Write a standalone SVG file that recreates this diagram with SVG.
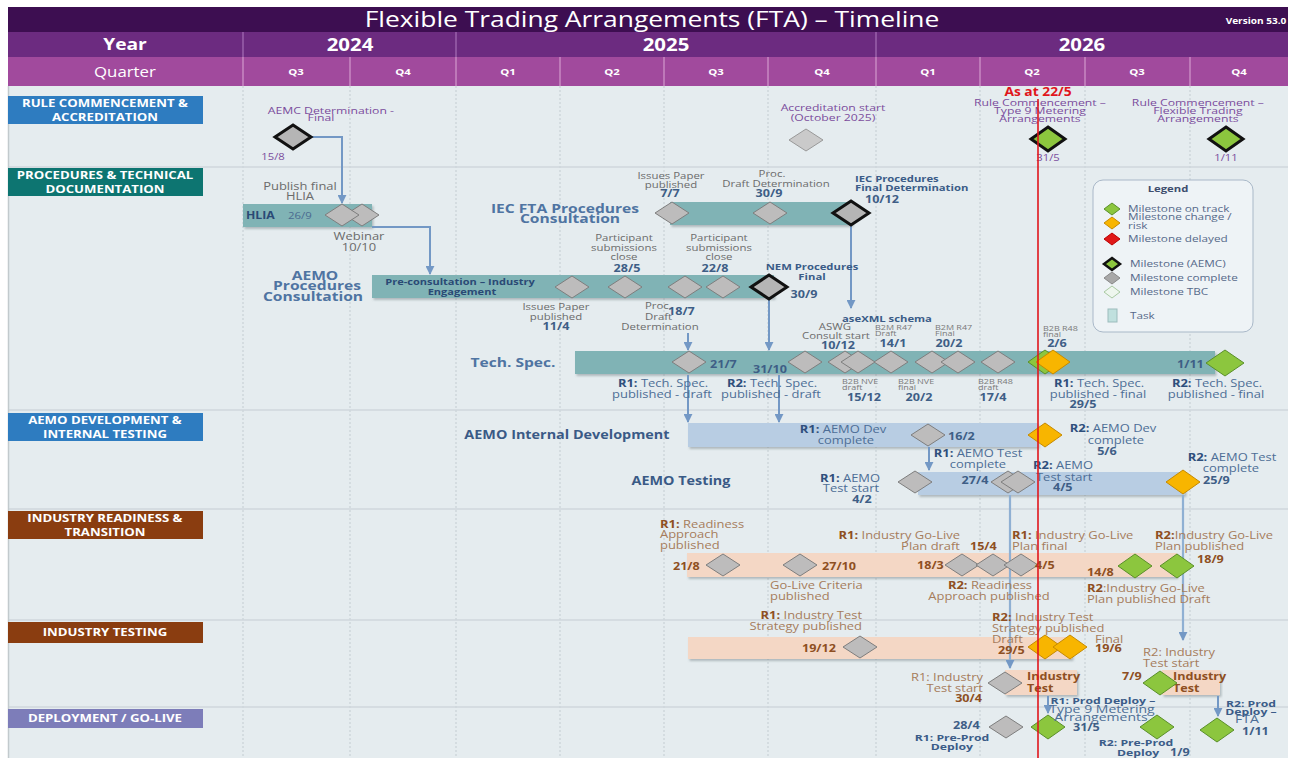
<svg xmlns="http://www.w3.org/2000/svg" width="1292" height="758" viewBox="0 0 1292 758">
<defs>
<style>
text{font-family:"Open Sans","Liberation Sans",sans-serif;text-anchor:middle;transform-box:fill-box;transform-origin:center;transform:scaleX(1.2)}
.l{text-anchor:start;transform-origin:left center}
.r{text-anchor:end;transform-origin:right center}
.b{font-weight:700}
.w{transform:scaleX(1.3)}
.sec{fill:#fff;font-weight:700;font-size:11px}
.hd{fill:#fff}
.g{fill:#6b6b6b;font-size:9.5px}
.gl{fill:#6b6b6b;font-size:10.8px}
.dt{fill:#3e5e86;font-weight:700;font-size:10.5px}
.pu{fill:#7b4d9d;font-size:9.4px}
.bt{fill:#4f74a2;font-weight:700;font-size:13px}
.bn{fill:#3b5c88;font-weight:700;font-size:9.4px}
.bl{fill:#4d6e96;font-size:10.8px}
.bl .b{fill:#2f4f7c}
.br{fill:#a67c5c;font-size:10.8px}
.br .b{fill:#8e4f22}
.bd{fill:#8e4f22;font-weight:700;font-size:10.5px}
.tn{fill:#7a7a7a;font-size:7.5px}
.lg{fill:#56698a;font-size:9.8px}
.bar{filter:url(#sh)}
.teal{fill:#80b3b5}
.lb{fill:#b8cde3}
.pe{fill:#f4d7c5}
.grid{stroke:#c3ccd1;stroke-width:1;stroke-dasharray:2 2}
.hl{stroke:#cfd7dc;stroke-width:1.5}
.cn{fill:none;stroke:#7398c5;stroke-width:2;marker-end:url(#ah)}
.cl{fill:none;stroke:#8fb0d3;stroke-width:2.2;marker-end:url(#ah)}
</style>
<filter id="sh" x="-5%" y="-20%" width="110%" height="160%"><feDropShadow dx="1.5" dy="2" stdDeviation="1" flood-color="#6f7b80" flood-opacity="0.45"/></filter>
<marker id="ah" viewBox="0 0 10 10" refX="9" refY="5" markerWidth="9" markerHeight="9" markerUnits="userSpaceOnUse" orient="auto"><path d="M0,0 L10,5 L0,10 z" fill="#7398c5"/></marker>
<polygon id="dG" points="0,-11 17,0 0,11 -17,0" fill="#bdbcbc" stroke="#7e7e7e" stroke-width="1"/>
<polygon id="dK" points="0,-12 18,0 0,12 -18,0" fill="#b5b5b5" stroke="#111" stroke-width="3"/>
<polygon id="dN" points="0,-12 17,0 0,12 -17,0" fill="#8cc63e" stroke="#5a8f2a" stroke-width="1"/>
<polygon id="dNK" points="0,-12 17,0 0,12 -17,0" fill="#8cc63e" stroke="#111" stroke-width="3"/>
<polygon id="dO" points="0,-12 17,0 0,12 -17,0" fill="#f8b500" stroke="#c68a00" stroke-width="1"/>
<polygon id="dL" points="0,-11 17,0 0,11 -17,0" fill="#cacaca" stroke="#999" stroke-width="1"/>
</defs>

<rect x="0" y="0" width="1292" height="758" fill="#ffffff"/>
<rect x="8" y="86" width="1280" height="672" fill="#e5ecef"/>

<g id="header">
<rect x="8" y="7" width="1280" height="25" fill="#3d0e51"/>
<rect x="8" y="32" width="1280" height="25" fill="#6c2b80"/>
<rect x="8" y="57" width="1280" height="29" fill="#a14a9d"/>
<g stroke="#9a62ab" stroke-width="1.5"><line x1="243" y1="32" x2="243" y2="57"/><line x1="456" y1="32" x2="456" y2="57"/><line x1="876" y1="32" x2="876" y2="57"/></g>
<g stroke="#c88ac3" stroke-width="1.5"><line x1="243" y1="57" x2="243" y2="86"/><line x1="350" y1="57" x2="350" y2="86"/><line x1="456" y1="57" x2="456" y2="86"/><line x1="560" y1="57" x2="560" y2="86"/><line x1="664" y1="57" x2="664" y2="86"/><line x1="768" y1="57" x2="768" y2="86"/><line x1="876" y1="57" x2="876" y2="86"/><line x1="980" y1="57" x2="980" y2="86"/><line x1="1085" y1="57" x2="1085" y2="86"/><line x1="1190" y1="57" x2="1190" y2="86"/></g>
<text class="hd" x="652" y="27" font-size="22">Flexible Trading Arrangements (FTA) – Timeline</text>
<text class="hd b" x="1256" y="24" font-size="8.4">Version 53.0</text>
<text class="hd b" x="125" y="50" font-size="16">Year</text>
<text class="hd b" x="350" y="51" font-size="17">2024</text>
<text class="hd b" x="666" y="51" font-size="17">2025</text>
<text class="hd b" x="1082" y="51" font-size="17">2026</text>
<text class="hd" x="125" y="77" font-size="14">Quarter</text>
<g id="quarters">
<text class="hd b" x="296" y="75" font-size="9.5">Q3</text>
<text class="hd b" x="403" y="75" font-size="9.5">Q4</text>
<text class="hd b" x="508" y="75" font-size="9.5">Q1</text>
<text class="hd b" x="612" y="75" font-size="9.5">Q2</text>
<text class="hd b" x="716" y="75" font-size="9.5">Q3</text>
<text class="hd b" x="822" y="75" font-size="9.5">Q4</text>
<text class="hd b" x="928" y="75" font-size="9.5">Q1</text>
<text class="hd b" x="1032" y="75" font-size="9.5">Q2</text>
<text class="hd b" x="1137" y="75" font-size="9.5">Q3</text>
<text class="hd b" x="1239" y="75" font-size="9.5">Q4</text>
</g>
</g>

<g id="grid">
<line class="grid" x1="243" y1="86" x2="243" y2="758"/>
<line class="grid" x1="350" y1="86" x2="350" y2="758"/>
<line class="grid" x1="456" y1="86" x2="456" y2="758"/>
<line class="grid" x1="560" y1="86" x2="560" y2="758"/>
<line class="grid" x1="664" y1="86" x2="664" y2="758"/>
<line class="grid" x1="768" y1="86" x2="768" y2="758"/>
<line class="grid" x1="876" y1="86" x2="876" y2="758"/>
<line class="grid" x1="980" y1="86" x2="980" y2="758"/>
<line class="grid" x1="1085" y1="86" x2="1085" y2="758"/>
<line class="grid" x1="1190" y1="86" x2="1190" y2="758"/>
<line class="hl" x1="8" y1="167" x2="1288" y2="167"/>
<line class="hl" x1="8" y1="410" x2="1288" y2="410"/>
<line class="hl" x1="8" y1="509" x2="1288" y2="509"/>
<line class="hl" x1="8" y1="620" x2="1288" y2="620"/>
<line class="hl" x1="8" y1="707" x2="1288" y2="707"/>
<line x1="8.5" y1="86" x2="8.5" y2="758" stroke="#c2cacd" stroke-width="1.5"/>
</g>

<g id="sections">
<g id="sec-rule"><rect x="8" y="96" width="195" height="28" fill="#2e7cc0"/><text class="sec" x="105" y="107">RULE COMMENCEMENT &amp;</text><text class="sec" x="105" y="121">ACCREDITATION</text></g>
<g id="sec-proc"><rect x="8" y="168" width="195" height="28" fill="#0d7571"/><text class="sec" x="105" y="179">PROCEDURES &amp; TECHNICAL</text><text class="sec" x="105" y="193">DOCUMENTATION</text></g>
<g id="sec-dev"><rect x="8" y="413" width="195" height="28" fill="#2e7cc0"/><text class="sec" x="105" y="424">AEMO DEVELOPMENT &amp;</text><text class="sec" x="105" y="438">INTERNAL TESTING</text></g>
<g id="sec-ready"><rect x="8" y="511" width="195" height="28" fill="#8a3d10"/><text class="sec" x="105" y="522">INDUSTRY READINESS &amp;</text><text class="sec" x="105" y="536">TRANSITION</text></g>
<g id="sec-itest"><rect x="8" y="622" width="195" height="21" fill="#8a3d10"/><text class="sec" x="105" y="636">INDUSTRY TESTING</text></g>
<g id="sec-deploy"><rect x="8" y="709" width="195" height="19" fill="#7d7db9"/><text class="sec" x="105" y="722">DEPLOYMENT / GO-LIVE</text></g>
</g>

<g id="bars">
<g id="bar-hlia"><rect class="bar teal" x="243" y="204" width="129" height="23"/><text class="l b" x="246" y="219" font-size="10.2" fill="#2a4a75">HLIA</text><text class="l" x="288" y="219" font-size="9.5" fill="#4a6a90">26/9</text></g>
<g id="bar-aemo-proc"><text class="bt" x="315" y="280" fill="#5a7fa9">AEMO</text><text class="bt" x="317" y="290.5" fill="#5a7fa9">Procedures</text><text class="bt" x="313" y="301" fill="#5a7fa9">Consultation</text></g>
<g id="bar-precons"><rect class="bar teal" x="372" y="275" width="402" height="23"/><text class="b" x="460" y="285" font-size="9.2" fill="#2a4a75">Pre-consultation – Industry</text><text class="b" x="462" y="295" font-size="9.2" fill="#2a4a75">Engagement</text></g>
<g id="bar-iec"><rect class="bar teal" x="670" y="202" width="182" height="23"/><text class="bt" x="565" y="213">IEC FTA Procedures</text><text class="bt" x="570" y="223.5">Consultation</text></g>
<g id="bar-techspec"><rect class="bar teal" x="575" y="351" width="640" height="23"/><text class="bt" x="513" y="367">Tech. Spec.</text></g>
<g id="bar-intdev"><rect class="bar lb" x="688" y="423" width="350" height="24"/><text class="b" x="567" y="439" font-size="12" fill="#3a5a86">AEMO Internal Development</text></g>
<g id="bar-aemotest"><rect class="bar lb" x="918" y="472" width="267" height="23"/><text class="b" x="681" y="485" font-size="12" fill="#3a5a86">AEMO Testing</text></g>
<g id="bar-ready"><rect class="bar pe" x="687" y="553" width="490" height="24"/></g>
<g id="bar-indtest"><rect class="bar pe" x="688" y="637" width="384" height="22"/></g>
<g id="bar-it1"><rect class="bar pe" x="1005" y="670" width="72" height="25"/><text class="l bd" x="1027" y="680" font-size="10">Industry</text><text class="l bd" x="1027" y="692" font-size="10">Test</text></g>
<g id="bar-it2"><rect class="bar pe" x="1162" y="670" width="58" height="25"/><text class="l bd" x="1173" y="680" font-size="10">Industry</text><text class="l bd" x="1173" y="692" font-size="10">Test</text></g>
</g>

<g id="connectors">
<path class="cn" d="M309,137 H342 V203"/>
<path class="cn" d="M372,227 H430 V274"/>
<path class="cn" d="M851,226 V308"/>
<path class="cn" d="M769,300 V350"/>
<path class="cn" d="M688,333 V350"/>
<path class="cn" d="M688,375 V422"/>
<path class="cn" d="M779,375 V422"/>
<path class="cn" d="M929,447 V470"/>
<path class="cl" d="M1010,495 V668"/>
<path class="cl" d="M1183,495 V640"/>
<path class="cn" d="M1048,696 V713"/>
<path class="cn" d="M1218,696 V716"/>
</g>

<g id="ms-aemc-final"><text class="pu w" x="331" y="114">AEMC Determination -</text><text class="pu w" x="321" y="121.5">Final</text><use href="#dK" x="293" y="137"/><text class="pu" x="273" y="160">15/8</text></g>
<g id="ms-accred"><text class="pu w" x="833" y="111" fill="#6f6a8f">Accreditation start</text><text class="pu w" x="833" y="121.5" fill="#6f6a8f">(October 2025)</text><use href="#dL" x="806" y="140"/></g>
<g id="ms-rule-t9"><text class="pu w" x="1040" y="106">Rule Commencement –</text><text class="pu w" x="1040" y="114">Type 9 Metering</text><text class="pu w" x="1040" y="122">Arrangements</text><use href="#dNK" x="1048" y="139"/><text class="pu" x="1048" y="161">31/5</text></g>
<g id="ms-rule-fta"><text class="pu w" x="1198" y="106">Rule Commencement –</text><text class="pu w" x="1198" y="114">Flexible Trading</text><text class="pu w" x="1198" y="122">Arrangements</text><use href="#dNK" x="1226" y="139"/><text class="pu" x="1226" y="161">1/11</text></g>

<g id="ms-hlia"><text class="gl" x="300" y="190">Publish final</text><text class="gl" x="300" y="200">HLIA</text><use href="#dG" x="362" y="215"/><use href="#dG" x="342" y="215"/><text class="gl" x="359" y="240" font-size="11">Webinar</text><text class="gl" x="359" y="251" font-size="11">10/10</text></g>

<g id="ms-iec"><use href="#dG" x="672" y="213"/><use href="#dG" x="770" y="213"/><use href="#dK" x="851" y="213"/>
<text class="g" x="671" y="179">Issues Paper</text><text class="g" x="671" y="188">published</text><text class="dt" x="670" y="197">7/7</text>
<text class="g" x="772" y="177">Proc.</text><text class="g" x="776" y="187">Draft Determination</text><text class="dt" x="769" y="197">30/9</text>
<text class="l bn" x="855" y="182">IEC Procedures</text><text class="l bn" x="855" y="191">Final Determination</text><text class="dt" x="882" y="203">10/12</text></g>

<g id="ms-nem"><use href="#dG" x="572" y="287"/><use href="#dG" x="625" y="287"/><use href="#dG" x="685" y="287"/><use href="#dG" x="723" y="287"/><use href="#dK" x="769" y="287"/>
<text class="g" x="624" y="241">Participant</text><text class="g" x="624" y="251">submissions</text><text class="g" x="624" y="260.5">close</text><text class="dt" x="627" y="272">28/5</text>
<text class="g" x="719" y="241">Participant</text><text class="g" x="719" y="251">submissions</text><text class="g" x="719" y="260.5">close</text><text class="dt" x="715" y="272">22/8</text>
<text class="bn" x="812" y="270">NEM Procedures</text><text class="bn" x="812" y="280">Final</text><text class="dt" x="804" y="298" font-weight="400" fill="#4a6a90">30/9</text>
<text class="g" x="556" y="310">Issues Paper</text><text class="g" x="556" y="320">published</text><text class="dt" x="556" y="330">11/4</text>
<text class="l g" x="645" y="309" font-size="8.5">Proc.</text><text class="l dt" x="668" y="315">18/7</text><text class="l g" x="645" y="320" font-size="8.5">Draft</text><text class="g" x="660" y="330">Determination</text></g>

<g id="ms-techspec"><text class="bn" x="887" y="322">aseXML schema</text>
<use href="#dG" x="689" y="362"/><use href="#dG" x="805" y="362"/><use href="#dG" x="845" y="362"/><use href="#dG" x="858" y="362"/><use href="#dG" x="891" y="362"/><use href="#dG" x="932" y="362"/><use href="#dG" x="958" y="362"/><use href="#dG" x="998" y="362"/><use href="#dN" x="1045" y="362"/><use href="#dO" x="1053" y="362"/>
<polygon points="1225,350 1244,363 1225,376 1206,363" fill="#8cc63e" stroke="#5a8f2a"/>
<text class="l dt" x="710" y="368">21/7</text><text class="l dt" x="753" y="373">31/10</text>
<text class="g" x="835" y="330">ASWG</text><text class="g" x="836" y="339">Consult start</text><text class="dt" x="838" y="349">10/12</text>
<text class="l tn" x="875" y="330">B2M R47</text><text class="l tn" x="875" y="336">Draft</text><text class="dt" x="893" y="347">14/1</text>
<text class="l tn" x="935" y="330">B2M R47</text><text class="l tn" x="935" y="336">Final</text><text class="dt" x="949" y="347">20/2</text>
<text class="l tn" x="1043" y="331">B2B R48</text><text class="l tn" x="1043" y="337">final</text><text class="dt" x="1057" y="347">2/6</text>
<text class="l tn" x="842" y="384">B2B NVE</text><text class="l tn" x="842" y="390">draft</text><text class="dt" x="864" y="401">15/12</text>
<text class="l tn" x="898" y="384">B2B NVE</text><text class="l tn" x="898" y="390">final</text><text class="dt" x="919" y="401">20/2</text>
<text class="l tn" x="978" y="384">B2B R48</text><text class="l tn" x="978" y="390">draft</text><text class="dt" x="993" y="401">17/4</text>
<text class="bl" x="663" y="387"><tspan class="b">R1:</tspan> Tech. Spec.</text><text class="bl" x="662" y="398">published - draft</text>
<text class="bl" x="772" y="387"><tspan class="b">R2:</tspan> Tech. Spec.</text><text class="bl" x="771" y="398">published - draft</text>
<text class="bl" x="1099" y="387"><tspan class="b">R1:</tspan> Tech. Spec.</text><text class="bl" x="1098" y="398">published - final</text><text class="dt" x="1083" y="408">29/5</text>
<text class="l dt" x="1177" y="368">1/11</text>
<text class="bl" x="1217" y="387"><tspan class="b">R2:</tspan> Tech. Spec.</text><text class="bl" x="1216" y="398">published - final</text></g>

<g id="ms-dev"><text class="bl" x="843" y="433" font-size="10.5"><tspan class="b">R1:</tspan> AEMO Dev</text><text class="bl" x="846" y="444.5" font-size="10.5">complete</text>
<use href="#dG" x="928" y="435"/><text class="l dt" x="948" y="440">16/2</text><use href="#dO" x="1045" y="435"/>
<text class="bl" x="1113" y="432" font-size="10.5"><tspan class="b">R2:</tspan> AEMO Dev</text><text class="bl" x="1116" y="444" font-size="10.5">complete</text><text class="dt" x="1107" y="455">5/6</text></g>

<g id="ms-test"><use href="#dG" x="915" y="482"/><use href="#dG" x="1008" y="482"/><use href="#dG" x="1018" y="482"/><use href="#dO" x="1183" y="482"/>
<text class="bl" x="850" y="482" font-size="10.5"><tspan class="b">R1:</tspan> AEMO</text><text class="bl" x="851" y="492.5" font-size="10.5">Test start</text><text class="dt" x="862" y="503">4/2</text>
<text class="bl" x="978" y="457" font-size="10.5"><tspan class="b">R1:</tspan> AEMO Test</text><text class="bl" x="978" y="468.5" font-size="10.5">complete</text><text class="dt" x="975" y="484">27/4</text>
<text class="l bl" x="1033" y="469" font-size="10.5"><tspan class="b">R2:</tspan> AEMO</text><text class="l bl" x="1036" y="481" font-size="10.5">Test start</text><text class="l dt" x="1053" y="491">4/5</text>
<text class="bl" x="1232" y="461" font-size="10.5"><tspan class="b">R2:</tspan> AEMO Test</text><text class="bl" x="1231" y="472" font-size="10.5">complete</text><text class="l dt" x="1203" y="484">25/9</text></g>

<g id="ms-ready"><use href="#dG" x="723" y="565"/><use href="#dG" x="800" y="565"/><use href="#dG" x="962" y="565"/><use href="#dG" x="993" y="565"/><use href="#dG" x="1021" y="565"/><use href="#dN" x="1135" y="566"/><use href="#dN" x="1177" y="566"/>
<text class="l br" x="660" y="528"><tspan class="b">R1:</tspan> Readiness</text><text class="l br" x="660" y="538.5">Approach</text><text class="l br" x="660" y="549">published</text>
<text class="l bd" x="673" y="570">21/8</text><text class="l bd" x="822" y="570">27/10</text>
<text class="l br" x="770" y="589">Go-Live Criteria</text><text class="l br" x="770" y="600">published</text>
<text class="r br" x="960" y="539"><tspan class="b">R1:</tspan> Industry Go-Live</text><text class="r br" x="960" y="550">Plan draft</text><text class="l bd" x="970" y="550">15/4</text>
<text class="l bd" x="917" y="569">18/3</text>
<text class="l br" x="1012" y="539"><tspan class="b">R1:</tspan> Industry Go-Live</text><text class="l br" x="1012" y="550">Plan final</text><text class="l bd" x="1035" y="569">4/5</text>
<text class="l bd" x="1087" y="576">14/8</text>
<text class="l br" x="1155" y="539"><tspan class="b">R2:</tspan>Industry Go-Live</text><text class="l br" x="1155" y="550">Plan published</text><text class="l bd" x="1197" y="563">18/9</text>
<text class="br" x="990" y="589"><tspan class="b">R2:</tspan> Readiness</text><text class="br" x="989" y="600">Approach published</text>
<text class="l br" x="1087" y="592"><tspan class="b">R2</tspan>:Industry Go-Live</text><text class="l br" x="1087" y="603">Plan published Draft</text></g>

<g id="ms-indtest"><use href="#dG" x="860" y="647"/><use href="#dO" x="1045" y="647"/><use href="#dO" x="1070" y="647"/>
<text class="r br" x="862" y="619"><tspan class="b">R1:</tspan> Industry Test</text><text class="r br" x="862" y="630">Strategy published</text><text class="l bd" x="802" y="652">19/12</text>
<text class="l br" x="992" y="621"><tspan class="b">R2:</tspan> Industry Test</text><text class="l br" x="992" y="632">Strategy published</text><text class="l br" x="992" y="643">Draft</text><text class="l bd" x="998" y="654">29/5</text>
<text class="l br" x="1095" y="643">Final</text><text class="l bd" x="1095" y="652">19/6</text>
<text class="l br" x="1143" y="656">R2: Industry</text><text class="l br" x="1143" y="667">Test start</text><text class="l bd" x="1122" y="680">7/9</text>
<use href="#dG" x="1005" y="683"/><use href="#dN" x="1160" y="683"/>
<text class="r br" x="983" y="681">R1: Industry</text><text class="r br" x="983" y="692">Test start</text><text class="r bd" x="982" y="702">30/4</text></g>

<g id="ms-deploy"><use href="#dG" x="1006" y="727"/><use href="#dN" x="1048" y="727"/><use href="#dN" x="1157" y="727"/><use href="#dN" x="1217" y="730"/>
<text class="l dt" x="953" y="729" font-size="9.8">28/4</text>
<text class="bn w" x="952" y="741" font-size="8.8">R1: Pre-Prod</text><text class="bn w" x="952" y="750" font-size="8.8">Deploy</text>
<text class="bn w" x="1103" y="704" font-size="8.8">R1: Prod Deploy –</text><text class="bl w" x="1102" y="713" font-size="9">Type 9 Metering</text><text class="bl w" x="1101" y="721" font-size="9">Arrangements</text><text class="l dt" x="1073" y="731" font-size="9.8">31/5</text>
<text class="bn w" x="1136" y="746" font-size="8.8">R2: Pre-Prod</text><text class="l bn w" x="1117" y="756" font-size="8.8">Deploy</text><text class="l dt" x="1170" y="756" font-size="9.8">1/9</text>
<text class="bn w" x="1251" y="707" font-size="8.8">R2: Prod</text><text class="bn w" x="1251" y="715" font-size="8.8">Deploy –</text><text class="bl w" x="1247" y="723" font-size="9">FTA</text><text class="l dt" x="1242" y="735" font-size="9.8">1/11</text></g>

<g id="legend">
<rect x="1093" y="180" width="160" height="152" rx="10" fill="#eef3f6" stroke="#a9b8c8" stroke-width="1"/>
<text class="b" x="1168" y="192" font-size="9.4" fill="#3e4e6e">Legend</text>
<polygon points="1112,203 1120,209 1112,215 1104,209" fill="#8cc63e" stroke="#5a8f2a"/>
<polygon points="1112,217 1120,223 1112,229 1104,223" fill="#f8b500" stroke="#c68a00"/>
<polygon points="1112,233 1120,239 1112,245 1104,239" fill="#e01818" stroke="#b00"/>
<polygon points="1112,258 1120,264 1112,270 1104,264" fill="#8cc63e" stroke="#111" stroke-width="2.5"/>
<polygon points="1112,272 1120,278 1112,284 1104,278" fill="#a8a8a8" stroke="#888"/>
<polygon points="1112,286 1120,292 1112,298 1104,292" fill="#eef6ee" stroke="#a9c9a2"/>
<rect x="1108" y="309" width="9" height="13" fill="#c0e0de" stroke="#9bbcbc"/>
<text class="l lg" x="1128" y="212">Milestone on track</text>
<text class="l lg" x="1128" y="220.5">Milestone change /</text>
<text class="l lg" x="1128" y="229.5">risk</text>
<text class="l lg" x="1128" y="242">Milestone delayed</text>
<text class="l lg" x="1130" y="267">Milestone (AEMC)</text>
<text class="l lg" x="1130" y="281">Milestone complete</text>
<text class="l lg" x="1130" y="295">Milestone TBC</text>
<text class="l lg" x="1130" y="319">Task</text>
</g>

<g id="today">
<line x1="1038" y1="99" x2="1038" y2="758" stroke="#e0161c" stroke-width="1.6"/>
<text class="b" x="1038" y="96" font-size="11.5" fill="#e0161c">As at 22/5</text>
</g>
</svg>
